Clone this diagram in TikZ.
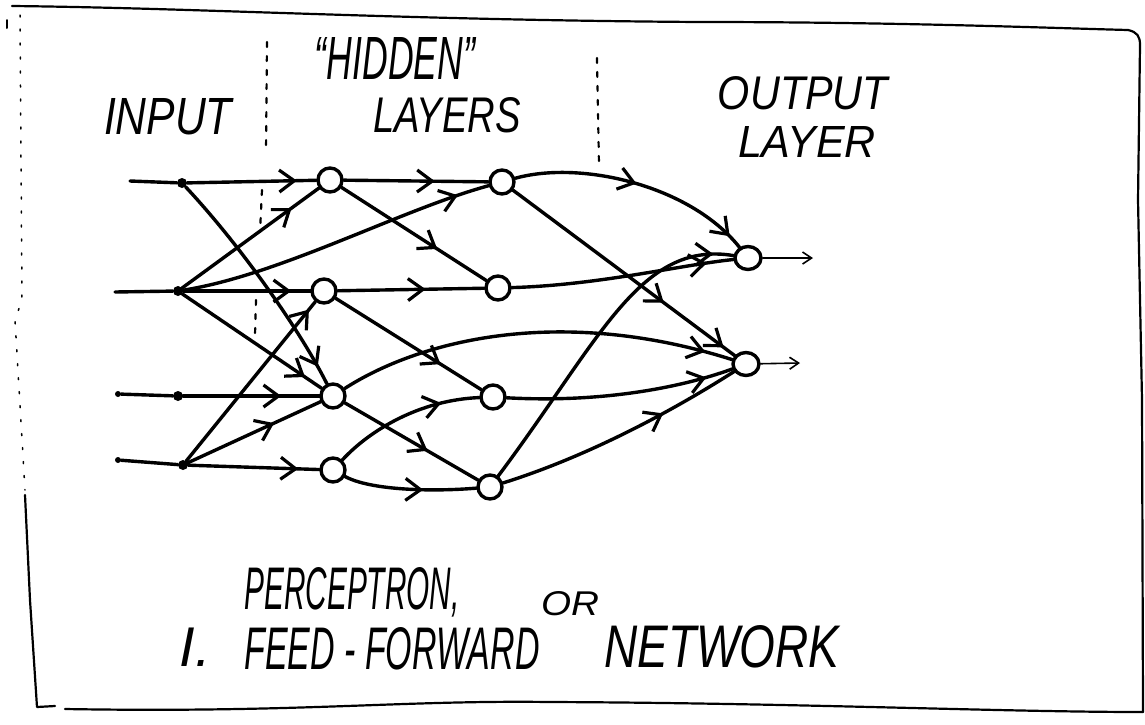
\documentclass[tikz,border=0pt]{standalone}
\usepackage{fontspec}
\usepackage{graphicx}
\usetikzlibrary{arrows.meta,decorations.markings,shapes.geometric}
\newfontfamily\hand{Liberation Sans}
\newcommand\handtxt[3]{\resizebox{#1pt}{#2pt}{\hand\itshape #3}}
\begin{document}
\begin{tikzpicture}[x=1pt,y=-1pt,line cap=round,line join=round,
  edge/.style={line width=3.4pt},
  neuron/.style={circle,draw,line width=3.4pt,minimum size=24pt,inner sep=0pt},
  outn/.style={ellipse,draw,line width=3.4pt,minimum width=26pt,minimum height=23pt,inner sep=0pt},
  dotn/.style={circle,fill,inner sep=0pt,minimum size=10pt},
  lbl/.style={inner sep=0pt},
  sep/.style={line width=2.2pt,dash pattern=on 5pt off 9pt},
  frame/.style={line width=2.2pt},
  thin arrow/.style={line width=1.6pt,-{Straight Barb[length=9pt,width=12pt]}},
  arr/.style={postaction={decorate,decoration={markings,
     mark=at position #1 with {\arrow{Straight Barb[length=15pt,width=22pt,line width=3.2pt]}}}}}]
\useasboundingbox (0,0) rectangle (1145,724);

% frame
\draw[frame] (12,6) .. controls (200,8) and (400,20) .. (700,22)
   .. controls (900,22) and (1050,28) .. (1128,30)
   .. controls (1137,32) and (1140,36) .. (1140,45)
   -- (1138,200) -- (1142,400) -- (1143,712);
\draw[frame] (1143,712) .. controls (1000,712) and (800,703) .. (550,702)
   .. controls (400,700) and (300,713) .. (65,709);
\draw[frame] (55,706) -- (37,707) -- (30,600) -- (25,495);
\draw[line width=1.5pt,dash pattern=on 2pt off 12pt] (20,15) -- (22,300) -- (15,320) -- (25,490);
\draw[line width=2pt] (7,20) -- (7,28);

% separators
\draw[sep] (267,42) -- (266,153);
\draw[sep] (262,190) -- (260,232);
\draw[sep] (256,300) -- (255,335);
\draw[sep] (597,58) -- (599,165);

% labels
\node[lbl] (tinput) at (168,117) {\handtxt{128}{36}{INPUT}};
\node[lbl] (thidden) at (395,58) {\handtxt{160}{42}{“HIDDEN”}};
\node[lbl] (tlayers) at (447,115) {\handtxt{148}{35}{LAYERS}};
\node[lbl] (toutput) at (803,93) {\handtxt{170}{33}{OUTPUT}};
\node[lbl] (tlayer) at (807,142) {\handtxt{138}{31}{LAYER}};
\node[lbl] (tperc) at (352,592) {\handtxt{215}{42}{PERCEPTRON,}};
\node[lbl] (tor) at (570,604) {\handtxt{58}{24}{OR}};
\node[lbl] (tone) at (195,647) {\fontsize{56}{56}\selectfont\hand\itshape I.};
\node[lbl] (tff) at (392,649) {\handtxt{295}{42}{FEED - FORWARD}};
\node[lbl] (tnet) at (722,647) {\handtxt{235}{42}{NETWORK}};

% input points
\coordinate (s1) at (130,181);
\coordinate (s2) at (115,292);
\node[dotn] (i1) at (182,183) {};
\node[dotn] (i2) at (178,291) {};
\node[dotn] (i3) at (178,396) {};
\node[dotn] (i4) at (183,465) {};
\node[dotn,minimum size=6pt] (d3) at (118,394) {};
\node[dotn,minimum size=6pt] (d4) at (118,460) {};

% neurons
\node[neuron] (h1a) at (330,180) {};
\node[neuron] (h1b) at (324,291) {};
\node[neuron] (h1c) at (333,396) {};
\node[neuron] (h1d) at (333,470) {};
\node[neuron] (h2a) at (502,182) {};
\node[neuron] (h2b) at (498,288) {};
\node[neuron] (h2c) at (493,397) {};
\node[neuron] (h2d) at (490,487) {};
\node[outn] (o1) at (748,258) {};
\node[outn] (o2) at (746,364) {};
\coordinate (e1) at (813,258);
\coordinate (e2) at (800,363);

% input lines
\draw[edge] (s1) -- (i1);
\draw[edge] (s2) -- (i2);
\draw[edge] (d3) -- (i3);
\draw[edge] (d4) -- (i4);

% input -> hidden 1
\draw[edge,arr=0.85] (i1) -- (h1a);
\draw[edge,arr=0.92] (i1) .. controls (240,245) and (300,330) .. (h1c);
\draw[edge,arr=0.8] (i2) -- (h1a);
\draw[edge,arr=0.9] (i2) .. controls (280,275) and (400,210) .. (h2a);
\draw[edge,arr=0.85] (i2) -- (h1b);
\draw[edge,arr=0.88] (i2) -- (h1c);
\draw[edge,arr=0.72] (i3) -- (h1c);
\draw[edge,arr=0.95] (i4) -- (h1b);
\draw[edge,arr=0.65] (i4) -- (h1c);
\draw[edge,arr=0.84] (i4) -- (h1d);

% hidden 1 -> hidden 2
\draw[edge,arr=0.63] (h1a) -- (h2a);
\draw[edge,arr=0.66] (h1a) -- (h2b);
\draw[edge,arr=0.6] (h1b) -- (h2b);
\draw[edge,arr=0.72] (h1b) -- (h2c);
\draw[edge,arr=0.62] (h1c) -- (h2d);
\draw[edge,arr=0.75] (h1d) .. controls (370,430) and (420,400) .. (h2c);
\draw[edge,arr=0.6] (h1d) .. controls (370,490) and (430,492) .. (h2d);
\draw[edge,arr=0.93] (h1c) .. controls (420,340) and (560,305) .. (o2);

% hidden 2 -> output
\draw[edge,arr=0.5,arr=0.94] (h2a) .. controls (580,160) and (690,185) .. (o1);
\draw[edge,arr=0.68,arr=0.95] (h2a) -- (o2);
\draw[edge,arr=0.88] (h2b) .. controls (600,285) and (680,265) .. (o1);
\draw[edge,arr=0.88] (h2c) .. controls (600,403) and (680,388) .. (o2);
\draw[edge,arr=0.94] (h2d) .. controls (600,340) and (640,240) .. (o1);
\draw[edge,arr=0.68] (h2d) .. controls (570,462) and (650,425) .. (o2);

% outputs
\draw[thin arrow] (o1) -- (e1);
\draw[thin arrow] (o2) -- (e2);
\end{tikzpicture}
\end{document}
